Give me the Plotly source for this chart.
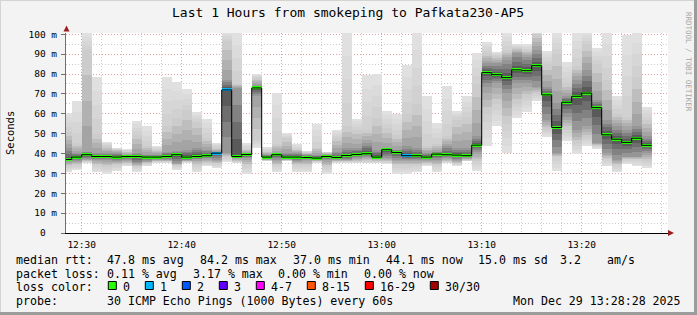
import plotly.graph_objects as go

# ---- data (ms), one entry per 60 s step, starting 12:28 ----
start_minute = 28  # minutes after 12:00 of first column
ping_min = [30.5, 31.5, 35.2, 30.5, 29.8, 31.0, 33.5, 30.7, 33.5, 35.2, 35.2, 31.8, 35.2, 30.5, 33.8, 32.7, 35.5, 35.2, 29.8, 43.0,
            36.0, 30.5, 36.0, 30.5, 30.5, 35.2, 29.8, 35.2, 35.2, 35.2, 35.2, 35.2, 34.8, 29.8, 29.8, 30.5, 33.8, 30.5, 35.2, 33.8,
            36.0, 31.0, 43.6, 53.6, 40.2, 57.8, 61.1, 66.2, 48.2, 31.0, 46.1, 39.9, 43.6, 42.4, 33.5, 30.5, 34.7, 33.5, 32.7]
ping_p10 = [33.5, 34.0, 36.0, 34.0, 33.0, 34.0, 35.0, 33.5, 35.0, 36.0, 36.0, 34.0, 36.0, 34.0, 35.0, 35.0, 38.0, 36.0, 34.0, 46.9,
            36.5, 34.0, 36.5, 34.0, 34.0, 36.0, 33.0, 36.0, 36.0, 36.0, 36.0, 36.0, 36.0, 34.0, 34.0, 34.0, 35.0, 34.0, 36.0, 35.0,
            36.5, 36.0, 60.0, 65.0, 55.0, 65.0, 68.0, 70.0, 52.0, 38.0, 52.0, 45.0, 48.0, 44.0, 37.0, 34.0, 37.0, 37.0, 36.0]
ping_q1 = [36.0, 36.0, 37.0, 36.9, 36.9, 36.0, 36.9, 35.0, 36.0, 36.9, 36.9, 35.2, 36.5, 37.0, 37.5, 36.9, 40.2, 37.5, 37.5, 68.7,
           37.0, 36.9, 37.0, 36.0, 36.9, 36.9, 36.9, 36.9, 36.9, 37.7, 38.5, 37.7, 37.7, 36.9, 36.9, 36.9, 36.9, 36.9, 37.7, 36.9,
           37.7, 41.0, 73.7, 75.4, 70.4, 75.4, 75.4, 73.7, 57.0, 40.2, 58.6, 52.0, 53.6, 45.2, 40.2, 36.9, 38.5, 38.5, 40.2]
median_rtt = [37.0, 38.2, 39.4, 38.5, 38.5, 38.2, 38.5, 38.5, 38.2, 38.2, 38.5, 39.4, 38.2, 38.5, 38.9, 40.2, 72.0, 38.5, 39.5, 73.0,
              38.2, 39.4, 38.2, 38.2, 38.0, 37.7, 38.5, 38.0, 39.0, 39.5, 39.9, 38.2, 41.9, 40.5, 38.9, 38.9, 38.2, 39.7, 39.4, 39.2,
              38.9, 44.2, 80.7, 79.7, 78.2, 82.1, 81.7, 84.2, 69.5, 53.1, 65.8, 68.8, 70.4, 63.1, 49.4, 47.2, 45.6, 47.7, 44.1]
ping_q3 = [42.7, 40.2, 41.0, 40.2, 40.2, 40.2, 39.4, 40.2, 39.4, 39.4, 41.0, 41.5, 41.9, 42.7, 41.9, 41.0, 77.1, 72.9, 40.5, 74.5,
           39.4, 40.2, 40.2, 40.2, 39.4, 39.4, 39.4, 41.0, 42.7, 42.7, 45.2, 41.9, 42.7, 41.9, 43.6, 42.7, 40.2, 41.0, 43.6, 42.7,
           42.7, 48.6, 85.4, 85.4, 87.1, 90.5, 88.8, 92.1, 73.7, 65.3, 68.7, 77.1, 82.1, 67.0, 57.0, 53.6, 52.0, 53.6, 48.6]
ping_p90 = [51.0, 45.2, 92.1, 50.0, 43.6, 42.0, 41.0, 49.4, 43.9, 42.0, 53.9, 58.0, 62.0, 56.0, 48.0, 43.0, 96.8, 75.0, 42.0, 78.0,
            41.0, 45.0, 47.7, 42.0, 40.5, 43.0, 40.5, 48.0, 53.6, 52.0, 52.0, 58.0, 52.8, 49.4, 60.0, 65.0, 43.6, 45.0, 48.6, 57.0,
            58.6, 75.0, 90.5, 89.0, 92.0, 93.0, 92.0, 100.0, 85.0, 90.0, 75.4, 84.0, 95.0, 85.0, 77.0, 60.0, 58.6, 78.7, 57.0]
ping_max = [60.6, 66.2, 101, 78.7, 45.6, 43.0, 42.2, 56.4, 53.9, 43.9, 78.7, 76.2, 72.5, 60.8, 57.5, 45.2, 101, 101, 45.2, 80.1,
            43.5, 70.7, 50.3, 44.9, 41.4, 55.0, 41.0, 51.6, 101, 57.6, 79.6, 80.1, 61.6, 60.0, 84.6, 101, 68.7, 55.3, 74.0, 61.6,
            68.7, 90.8, 96.3, 91.3, 101, 95.1, 95.1, 101, 91.8, 101, 86.3, 101, 101, 93.0, 101, 69.0, 99.7, 101, 63.3]
loss_count = [0] * 15 + [1, 1] + [0] * 17 + [1] + [0] * 24

loss_labels = ["0", "1", "2", "3", "4-7", "8-15", "16-29", "30/30"]
loss_colors = ["#26ff00", "#00b8ff", "#0059ff", "#5e00ff", "#ff00ff", "#ff5500", "#ff0000", "#a10000"]

tick_minutes = [30, 40, 50, 60, 70, 80]
tick_labels = ["12:30", "12:40", "12:50", "13:00", "13:10", "13:20"]
y_ticks = [0, 10, 20, 30, 40, 50, 60, 70, 80, 90, 100]

n = len(median_rtt)
x_center = [start_minute + k + 0.5 for k in range(n)]
x_start = [start_minute + k for k in range(n)]


def loss_idx(c):
    if c <= 3:
        return c
    if c <= 7:
        return 4
    if c <= 15:
        return 5
    if c <= 29:
        return 6
    return 7


fig = go.Figure()

# smoke: nested bands from outer (light) to inner (dark), shaded between quantile levels
levels = [(ping_min, ping_max, 224), (ping_p10, ping_p90, 204), (ping_q1, ping_q3, 150), (median_rtt, median_rtt, 70)]
sub = 4
for li in range(len(levels) - 1):
    lo_a, hi_a, g_a = levels[li]
    lo_b, hi_b, g_b = levels[li + 1]
    for j in range(sub):
        t = j / sub
        lo = [a + (b - a) * t for a, b in zip(lo_a, lo_b)]
        hi = [a + (b - a) * t for a, b in zip(hi_a, hi_b)]
        g = int(round(g_a + (g_b - g_a) * t))
        fig.add_trace(go.Bar(x=x_center, base=lo, y=[h - l for l, h in zip(lo, hi)], width=1.0,
                             marker=dict(color=f"rgb({g},{g},{g})", line=dict(width=0)), hoverinfo="skip"))

# median step line (black connectors)
fig.add_trace(go.Scatter(x=x_start + [start_minute + n], y=median_rtt + [median_rtt[-1]], mode="lines",
                         line=dict(color="black", width=1, shape="hv"), hoverinfo="skip"))
# coloured median markers
fig.add_trace(go.Bar(x=x_center, base=[m - 0.75 for m in median_rtt], y=[1.5] * n, width=1.0,
                     marker=dict(color=[loss_colors[loss_idx(c)] for c in loss_count], line=dict(width=0)),
                     hoverinfo="skip"))


def px(v):
    return (v - 66) / 602.0


def py(v):
    return (233 - v) / 200.0


mono = "DejaVu Sans Mono"
ann = []


def text(s, x, y, size=11.6, anchor="left", color="black", angle=0, family=mono):
    ann.append(dict(text=s, x=px(x), y=py(y), xref="paper", yref="paper", xanchor=anchor, yanchor="middle",
                    showarrow=False, font=dict(family=family, size=size, color=color), textangle=angle,
                    borderpad=0, borderwidth=0))


text("Last 1 Hours from smokeping to Pafkata230-AP5", 348, 13, size=13, anchor="center")
text("Seconds", 10, 133, size=10.5, anchor="center", angle=-90)
text("RRDTOOL / TOBI OETIKER", 689, 62, size=7.5, anchor="center", angle=90, color="#a8a8a8")

row1 = [("median rtt:", 16), ("47.8 ms avg", 107), ("84.2 ms max", 200), ("37.0 ms min", 293),
        ("44.1 ms now", 386), ("15.0 ms sd", 478), ("3.2", 560), ("am/s", 607)]
row2 = [("packet loss:", 16), ("0.11 % avg", 107), ("3.17 % max", 193), ("0.00 % min", 278), ("0.00 % now", 364)]
for s, x in row1:
    text(s, x, 259.5)
for s, x in row2:
    text(s, x, 273.5)
text("loss color:", 16, 287)
text("probe:", 16, 301)
text("30 ICMP Echo Pings (1000 Bytes) every 60s", 107, 301)
text("Mon Dec 29 13:28:28 2025", 513, 301)

shapes = []
bx = 108.3
for lab, col in zip(loss_labels, loss_colors):
    shapes.append(dict(type="rect", xref="paper", yref="paper", x0=px(bx), x1=px(bx + 8), y0=py(289.5), y1=py(281.5),
                       fillcolor=col, line=dict(color="black", width=1)))
    text(lab, bx + 15, 287)
    bx += 30 + 7 * len(lab)

# axis arrows
shapes.append(dict(type="path", xref="paper", yref="paper",
                   path=f"M {px(66.5)},{py(25.5)} L {px(63.5)},{py(31.5)} L {px(69.5)},{py(31.5)} Z",
                   fillcolor="#9b1c1c", line=dict(width=0)))
shapes.append(dict(type="path", xref="paper", yref="paper",
                   path=f"M {px(674)},{py(233)} L {px(668)},{py(230)} L {px(668)},{py(236)} Z",
                   fillcolor="#9b1c1c", line=dict(width=0)))
# frame
shapes.append(dict(type="rect", xref="paper", yref="paper", x0=px(694), x1=px(698), y0=py(316), y1=py(-1),
                   fillcolor="#9c9c9c", line=dict(width=0)))
shapes.append(dict(type="rect", xref="paper", yref="paper", x0=px(-1), x1=px(698), y0=py(316), y1=py(312),
                   fillcolor="#9c9c9c", line=dict(width=0)))
shapes.append(dict(type="rect", xref="paper", yref="paper", x0=px(-1), x1=px(694), y0=py(1), y1=py(-1),
                   fillcolor="#d4d4d4", line=dict(width=0)))
shapes.append(dict(type="rect", xref="paper", yref="paper", x0=px(-1), x1=px(1), y0=py(312), y1=py(-1),
                   fillcolor="#d4d4d4", line=dict(width=0)))

y_text = [("0\u00a0\u00a0" if v == 0 else f"{v} m") for v in y_ticks]

fig.update_layout(
    width=697, height=315, margin=dict(l=66, r=29, t=33, b=82),
    paper_bgcolor="#f3f3f3", plot_bgcolor="white", showlegend=False,
    barmode="overlay", bargap=0,
    annotations=ann, shapes=shapes,
    xaxis=dict(range=[28.43, 88.63], tickmode="array", tickvals=tick_minutes, ticktext=tick_labels,
               showgrid=True, gridcolor="#e0a4a4", griddash="1px,2px", gridwidth=1,
               minor=dict(tickmode="linear", tick0=30, dtick=2, showgrid=True, gridcolor="#cccccc",
                          griddash="1px,2px", gridwidth=1),
               showline=True, linecolor="black", linewidth=1, ticks="", zeroline=False,
               tickfont=dict(family=mono, size=9.5, color="black"), ticklabelstandoff=3, fixedrange=True),
    yaxis=dict(range=[0, 100.65], tickmode="array", tickvals=y_ticks, ticktext=y_text,
               showgrid=True, gridcolor="#e0a4a4", griddash="1px,2px", gridwidth=1,
               minor=dict(tickmode="linear", tick0=0, dtick=5, showgrid=True, gridcolor="#cccccc",
                          griddash="1px,2px", gridwidth=1),
               showline=True, linecolor="#707070", linewidth=1, ticks="outside", ticklen=4,
               tickcolor="#707070", zeroline=False, ticklabelstandoff=2,
               tickfont=dict(family=mono, size=9.5, color="black"), fixedrange=True),
)

fig.write_html("out.html")
